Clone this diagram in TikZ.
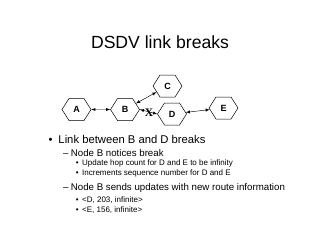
\documentclass[tikz,border=0pt]{standalone}
\usepackage{fontspec}
\setmainfont{Liberation Sans}
\newfontfamily\crossfont{Liberation Serif}
\usetikzlibrary{shapes,arrows,positioning,calc}

\tikzset{
  hexnode/.style={signal, signal to=east and west, signal pointer angle=115, draw, line width=0.5pt,
    minimum width=29pt, minimum height=22pt, inner sep=0pt, font=\fontsize{9}{10}\selectfont\bfseries},
  link/.style={<->, >=latex, line width=0.45pt},
  lvlone/.style={anchor=base west, inner sep=0pt, font=\fontsize{11.25}{13}\selectfont},
  lvltwo/.style={anchor=base west, inner sep=0pt, font=\fontsize{9.7}{11}\selectfont},
  lvlthree/.style={anchor=base west, inner sep=0pt, font=\fontsize{8}{9}\selectfont}
}
\newcommand{\bulone}{\llap{\textbullet\hspace{6pt}}}
\newcommand{\dashtwo}{\llap{--\hspace{2.5pt}}}
\newcommand{\bulthree}{\llap{\textbullet\hspace{3.5pt}}}

\begin{document}
\begin{tikzpicture}[x=1pt, y=-1pt]
  \useasboundingbox (0,0) rectangle (320,247);
  \node[anchor=base, font=\fontsize{17.6}{20}\selectfont] (title) at (160,48.3) {DSDV link breaks};

  % network
  \node[hexnode] (A) at (76.5,109.5) {A};
  \node[hexnode] (B) at (125,109.5) {B};
  \node[hexnode] (C) at (167.5,86) {C};
  \node[hexnode] (D) at (172,114) {D};
  \node[hexnode] (E) at (223.5,108) {E};
  \draw[link] (A) -- (B);
  \draw[link] (B) -- (C);
  \draw[link] (B.east) -- (D.west);
  \draw[link] (D) -- (E);
  \node[font=\crossfont\fontsize{11.5}{11.5}\selectfont\bfseries, inner sep=0pt] (cut) at (149,112.5) {X};

  % bullet list
  \node[lvlone] (l1) at (58.3,143.3) {\bulone Link between B and D breaks};
  \node[lvltwo] (l2) at (70.7,156) {\dashtwo Node B notices break};
  \node[lvlthree] (l3) at (82,165.3) {\bulthree Update hop count for D and E to be infinity};
  \node[lvlthree] (l4) at (82,175.7) {\bulthree Increments sequence number for D and E};
  \node[lvltwo] (l5) at (70.7,190.7) {\dashtwo Node B sends updates with new route information};
  \node[lvlthree] (l6) at (82,202.3) {\bulthree <D, 203, infinite>};
  \node[lvlthree] (l7) at (82,212.3) {\bulthree <E, 156, infinite>};
\end{tikzpicture}
\end{document}
